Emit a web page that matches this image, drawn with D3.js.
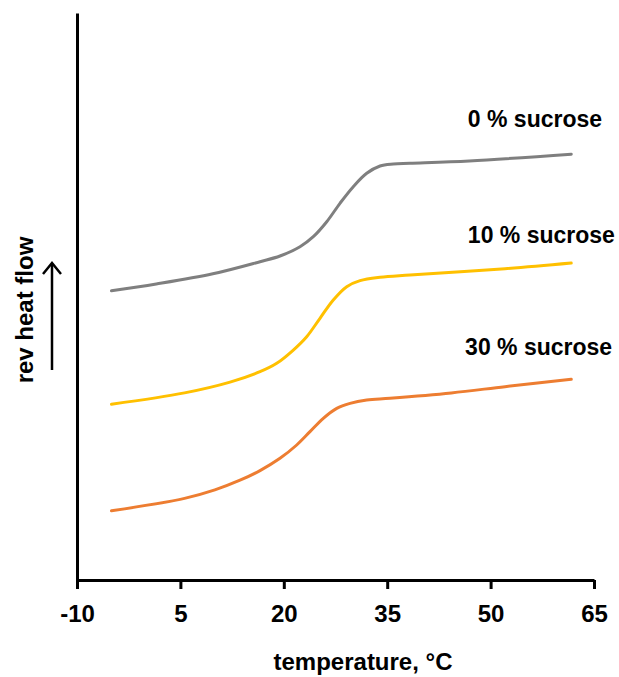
<!DOCTYPE html>
<html>
<head>
<meta charset="utf-8">
<script src="https://cdn.jsdelivr.net/npm/d3@7"></script>
<style>
  html, body { margin: 0; padding: 0; background: #fff; }
  svg { display: block; }
  text { font-family: Arial, "Liberation Sans", sans-serif; font-weight: bold; fill: #000; }
</style>
</head>
<body>
<svg id="chart" width="619" height="677"></svg>
<script>
// ---- data (temperature in °C, rev heat flow in arbitrary units) ----
const xTicks = [-10, 5, 20, 35, 50, 65];

const temp0 = [-5, 1.5, 9.7, 16.55, 19.45, 22.35, 24.28, 26.23, 28.15, 30.08, 32.03, 33.96, 35.89, 38.31, 46.9, 61.7];
const flow0 = [51.0, 52.2, 54.0, 56.14, 57.14, 58.78, 60.55, 63.19, 66.44, 69.37, 71.73, 73.02, 73.37, 73.49, 73.9, 75.1];

const temp10 = [-5, 5.6, 12.2, 16.55, 18.97, 21.38, 23.32, 25.25, 27.18, 29.13, 31.06, 33.96, 38.31, 52.1, 61.7];
const flow10 = [31.0, 33.0, 34.9, 36.74, 38.22, 40.56, 42.91, 46.16, 49.38, 51.73, 52.79, 53.39, 53.79, 54.9, 55.9];

const temp30 = [-5, 5.6, 10.0, 13.65, 16.55, 19.45, 21.87, 23.8, 25.73, 27.68, 29.61, 32.03, 35.41, 44.3, 52.1, 61.7];
const flow30 = [12.2, 14.4, 15.9, 17.6, 19.3, 21.46, 23.81, 26.16, 28.52, 30.28, 31.16, 31.75, 32.05, 33.0, 34.1, 35.4];

const seriesNames = ["0 % sucrose", "10 % sucrose", "30 % sucrose"];
const seriesColors = ["#7f7f7f", "#ffc000", "#ed7d31"];
const labelX = [46.7, 46.7, 46.3];
const labelY = [79.9, 59.4, 39.7];

const xTitle = "temperature, °C";
const yTitle = "rev heat flow";

// ---- layout ----
const svg = d3.select("#chart");
const x = d3.scaleLinear().domain([-10, 65]).range([77, 594]);
const y = d3.scaleLinear().domain([0, 100]).range([580, 13]);

const series = [
  temp0.map((t, i) => [t, flow0[i]]),
  temp10.map((t, i) => [t, flow10[i]]),
  temp30.map((t, i) => [t, flow30[i]])
];

const line = d3.line()
  .x(d => x(d[0]))
  .y(d => y(d[1]))
  .curve(d3.curveCatmullRom.alpha(0.5));

svg.append("g").selectAll("path")
  .data(series)
  .join("path")
  .attr("d", line)
  .attr("fill", "none")
  .attr("stroke", (d, i) => seriesColors[i])
  .attr("stroke-width", 3)
  .attr("stroke-linecap", "round");

// x axis
const xAxis = svg.append("g")
  .attr("transform", `translate(0,${y(0)})`)
  .call(d3.axisBottom(x).tickValues(xTicks).tickFormat(d => String(d))
    .tickSize(9).tickSizeOuter(0).tickPadding(16));
xAxis.select(".domain").attr("stroke", "#000").attr("stroke-width", 3);
xAxis.selectAll(".tick line").attr("stroke", "#000").attr("stroke-width", 3);
xAxis.selectAll(".tick text")
  .attr("font-size", 24)
  .attr("font-family", "Arial, 'Liberation Sans', sans-serif")
  .attr("font-weight", "bold")
  .attr("fill", "#000");

// y axis (no ticks)
const yAxis = svg.append("g")
  .attr("transform", `translate(${x(-10)},0)`)
  .call(d3.axisLeft(y).tickValues([]).tickSizeOuter(0));
yAxis.select(".domain").attr("stroke", "#000").attr("stroke-width", 3);

// series labels
svg.append("g").selectAll("text")
  .data(seriesNames)
  .join("text")
  .attr("x", (d, i) => x(labelX[i]))
  .attr("y", (d, i) => y(labelY[i]))
  .attr("font-size", 23)
  .text(d => d);

// axis titles
svg.append("text")
  .attr("x", 363)
  .attr("y", 670)
  .attr("text-anchor", "middle")
  .attr("font-size", 24)
  .text(xTitle);

svg.append("text")
  .attr("transform", "translate(33,310) rotate(-90)")
  .attr("text-anchor", "middle")
  .attr("font-size", 24)
  .text(yTitle);

// arrow
svg.append("line")
  .attr("x1", 52).attr("x2", 52)
  .attr("y1", 370).attr("y2", 264)
  .attr("stroke", "#000").attr("stroke-width", 2.5);
svg.append("path")
  .attr("d", "M43,274 L52,263 L61,274")
  .attr("fill", "none")
  .attr("stroke", "#000").attr("stroke-width", 2.5)
  .attr("stroke-linejoin", "miter");
</script>
</body>
</html>
